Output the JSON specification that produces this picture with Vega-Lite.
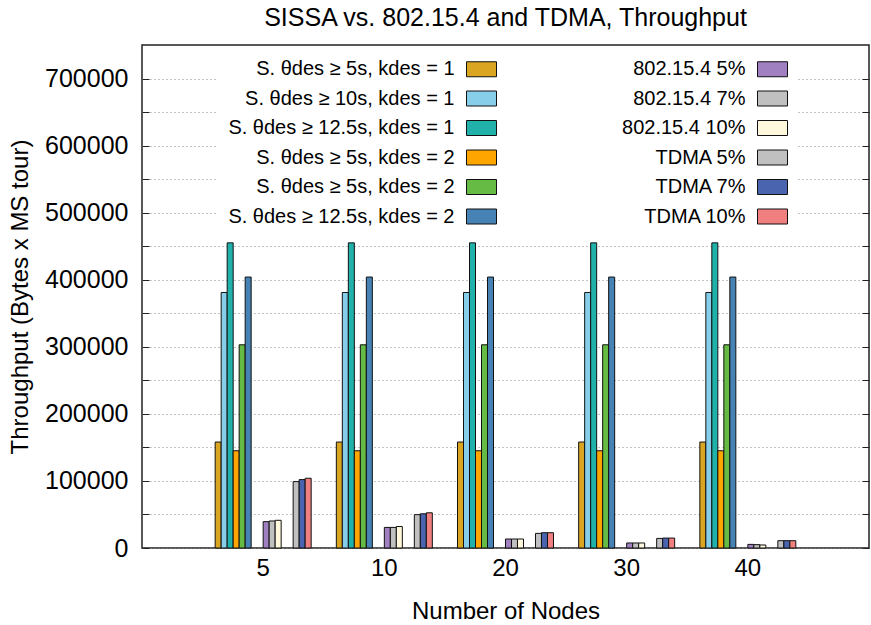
{
  "$schema": "https://vega.github.io/schema/vega-lite/v6.json",
  "width": 727,
  "height": 503,
  "autosize": {"type": "none"},
  "padding": {"left": 142, "top": 45, "right": 2, "bottom": 77},
  "background": "white",
  "title": {"text": "SISSA vs. 802.15.4 and TDMA, Throughput", "fontSize": 25, "font": "Liberation Sans", "fontWeight": "normal", "color": "black", "anchor": "middle", "offset": 14},
  "config": {"view": {"stroke": "#222", "strokeWidth": 1.5}, "font": "Liberation Sans"},
  "data": {"values": [
    {"nodes": 5, "series": "S. θdes ≥ 5s, kdes = 1", "throughput": 158000},
    {"nodes": 5, "series": "S. θdes ≥ 10s, kdes = 1", "throughput": 381000},
    {"nodes": 5, "series": "S. θdes ≥ 12.5s, kdes = 1", "throughput": 455000},
    {"nodes": 5, "series": "S. θdes ≥ 5s, kdes = 2", "throughput": 145000},
    {"nodes": 5, "series": "S. θdes ≥ 5s, kdes = 2 ", "throughput": 303000},
    {"nodes": 5, "series": "S. θdes ≥ 12.5s, kdes = 2", "throughput": 404000},
    {"nodes": 5, "series": "802.15.4 5%", "throughput": 39300},
    {"nodes": 5, "series": "802.15.4 7%", "throughput": 40300},
    {"nodes": 5, "series": "802.15.4 10%", "throughput": 41300},
    {"nodes": 5, "series": "TDMA 5%", "throughput": 99000},
    {"nodes": 5, "series": "TDMA 7%", "throughput": 102000},
    {"nodes": 5, "series": "TDMA 10%", "throughput": 104000},
    {"nodes": 10, "series": "S. θdes ≥ 5s, kdes = 1", "throughput": 158000},
    {"nodes": 10, "series": "S. θdes ≥ 10s, kdes = 1", "throughput": 381000},
    {"nodes": 10, "series": "S. θdes ≥ 12.5s, kdes = 1", "throughput": 455000},
    {"nodes": 10, "series": "S. θdes ≥ 5s, kdes = 2", "throughput": 145000},
    {"nodes": 10, "series": "S. θdes ≥ 5s, kdes = 2 ", "throughput": 303000},
    {"nodes": 10, "series": "S. θdes ≥ 12.5s, kdes = 2", "throughput": 404000},
    {"nodes": 10, "series": "802.15.4 5%", "throughput": 30700},
    {"nodes": 10, "series": "802.15.4 7%", "throughput": 30700},
    {"nodes": 10, "series": "802.15.4 10%", "throughput": 32000},
    {"nodes": 10, "series": "TDMA 5%", "throughput": 49700},
    {"nodes": 10, "series": "TDMA 7%", "throughput": 51000},
    {"nodes": 10, "series": "TDMA 10%", "throughput": 52500},
    {"nodes": 20, "series": "S. θdes ≥ 5s, kdes = 1", "throughput": 158000},
    {"nodes": 20, "series": "S. θdes ≥ 10s, kdes = 1", "throughput": 381000},
    {"nodes": 20, "series": "S. θdes ≥ 12.5s, kdes = 1", "throughput": 455000},
    {"nodes": 20, "series": "S. θdes ≥ 5s, kdes = 2", "throughput": 145000},
    {"nodes": 20, "series": "S. θdes ≥ 5s, kdes = 2 ", "throughput": 303000},
    {"nodes": 20, "series": "S. θdes ≥ 12.5s, kdes = 2", "throughput": 404000},
    {"nodes": 20, "series": "802.15.4 5%", "throughput": 13400},
    {"nodes": 20, "series": "802.15.4 7%", "throughput": 13400},
    {"nodes": 20, "series": "802.15.4 10%", "throughput": 13400},
    {"nodes": 20, "series": "TDMA 5%", "throughput": 21800},
    {"nodes": 20, "series": "TDMA 7%", "throughput": 22800},
    {"nodes": 20, "series": "TDMA 10%", "throughput": 22800},
    {"nodes": 30, "series": "S. θdes ≥ 5s, kdes = 1", "throughput": 158000},
    {"nodes": 30, "series": "S. θdes ≥ 10s, kdes = 1", "throughput": 381000},
    {"nodes": 30, "series": "S. θdes ≥ 12.5s, kdes = 1", "throughput": 455000},
    {"nodes": 30, "series": "S. θdes ≥ 5s, kdes = 2", "throughput": 145000},
    {"nodes": 30, "series": "S. θdes ≥ 5s, kdes = 2 ", "throughput": 303000},
    {"nodes": 30, "series": "S. θdes ≥ 12.5s, kdes = 2", "throughput": 404000},
    {"nodes": 30, "series": "802.15.4 5%", "throughput": 7500},
    {"nodes": 30, "series": "802.15.4 7%", "throughput": 7500},
    {"nodes": 30, "series": "802.15.4 10%", "throughput": 7500},
    {"nodes": 30, "series": "TDMA 5%", "throughput": 14300},
    {"nodes": 30, "series": "TDMA 7%", "throughput": 14800},
    {"nodes": 30, "series": "TDMA 10%", "throughput": 14800},
    {"nodes": 40, "series": "S. θdes ≥ 5s, kdes = 1", "throughput": 158000},
    {"nodes": 40, "series": "S. θdes ≥ 10s, kdes = 1", "throughput": 381000},
    {"nodes": 40, "series": "S. θdes ≥ 12.5s, kdes = 1", "throughput": 455000},
    {"nodes": 40, "series": "S. θdes ≥ 5s, kdes = 2", "throughput": 145000},
    {"nodes": 40, "series": "S. θdes ≥ 5s, kdes = 2 ", "throughput": 303000},
    {"nodes": 40, "series": "S. θdes ≥ 12.5s, kdes = 2", "throughput": 404000},
    {"nodes": 40, "series": "802.15.4 5%", "throughput": 5400},
    {"nodes": 40, "series": "802.15.4 7%", "throughput": 5000},
    {"nodes": 40, "series": "802.15.4 10%", "throughput": 4500},
    {"nodes": 40, "series": "TDMA 5%", "throughput": 10900},
    {"nodes": 40, "series": "TDMA 7%", "throughput": 10900},
    {"nodes": 40, "series": "TDMA 10%", "throughput": 10900}
  ]},
  "layer": [
    {
      "mark": {"type": "bar", "stroke": "#111", "strokeWidth": 1},
      "encoding": {
        "x": {
          "field": "nodes", "type": "ordinal",
          "scale": {"paddingInner": 0.2077, "paddingOuter": 0.6039},
          "axis": {"title": "Number of Nodes", "titleFontSize": 24, "titleFontWeight": "normal", "titleColor": "black", "titlePadding": 19, "labelFontSize": 24, "labelColor": "black", "labelAngle": 0, "labelPadding": 8, "ticks": false, "domain": false, "grid": false}
        },
        "xOffset": {
          "field": "series", "type": "nominal",
          "scale": {"domain": ["S. θdes ≥ 5s, kdes = 1", "S. θdes ≥ 10s, kdes = 1", "S. θdes ≥ 12.5s, kdes = 1", "S. θdes ≥ 5s, kdes = 2", "S. θdes ≥ 5s, kdes = 2 ", "S. θdes ≥ 12.5s, kdes = 2", "_gap1", "_gap2", "802.15.4 5%", "802.15.4 7%", "802.15.4 10%", "_gap3", "_gap4", "TDMA 5%", "TDMA 7%", "TDMA 10%"], "paddingInner": 0, "paddingOuter": 0}
        },
        "y": {
          "field": "throughput", "type": "quantitative",
          "scale": {"domain": [0, 750000], "nice": false},
          "axis": {"title": "Throughput (Bytes x MS tour)", "titleFontSize": 24, "titleFontWeight": "normal", "titleColor": "black", "titlePadding": 12, "labelFontSize": 25, "labelColor": "black", "values": [0, 50000, 100000, 150000, 200000, 250000, 300000, 350000, 400000, 450000, 500000, 550000, 600000, 650000, 700000], "format": "d", "labelExpr": "datum.value % 100000 === 0 ? datum.label : ''", "grid": true, "gridColor": "#888", "gridDash": [1, 3], "gridWidth": 1, "domain": false, "ticks": true, "tickSize": -7, "tickColor": "#222", "labelPadding": 21}
        },
        "color": {
          "field": "series", "type": "nominal",
          "scale": {
            "domain": ["S. θdes ≥ 5s, kdes = 1", "S. θdes ≥ 10s, kdes = 1", "S. θdes ≥ 12.5s, kdes = 1", "S. θdes ≥ 5s, kdes = 2", "S. θdes ≥ 5s, kdes = 2 ", "S. θdes ≥ 12.5s, kdes = 2", "802.15.4 5%", "802.15.4 7%", "802.15.4 10%", "TDMA 5%", "TDMA 7%", "TDMA 10%"],
            "range": ["#DAA520", "#87CEEB", "#20B2AA", "#FFA500", "#66BB44", "#4682B4", "#A080C0", "#C0C0C0", "#FFF8DC", "#C0C0C0", "#4A64B0", "#F08080"]
          },
          "legend": {"title": null, "orient": "none", "legendX": 74.5, "legendY": 1.5, "columns": 2, "columnPadding": 16, "rowPadding": 3.5, "labelFontSize": 20, "labelColor": "black", "labelAlign": "right", "labelOffset": -42.5, "symbolOffset": 242.5, "labelLimit": 400, "symbolType": "M-1,-0.5H1V0.5H-1Z", "symbolSize": 900, "symbolStrokeColor": "#111", "symbolStrokeWidth": 1, "symbolOpacity": 1, "fillColor": "white", "padding": 7}
        }
      }
    },
    {
      "mark": {"type": "bar", "opacity": 0},
      "encoding": {
        "x": {"field": "nodes", "type": "ordinal"},
        "xOffset": {"field": "series", "type": "nominal"},
        "y": {
          "field": "throughput", "type": "quantitative",
          "axis": {"orient": "right", "title": null, "labels": false, "values": [0, 50000, 100000, 150000, 200000, 250000, 300000, 350000, 400000, 450000, 500000, 550000, 600000, 650000, 700000], "grid": false, "domain": false, "ticks": true, "tickSize": -7, "tickColor": "#222"}
        }
      }
    }
  ],
  "resolve": {"axis": {"y": "independent"}}
}
